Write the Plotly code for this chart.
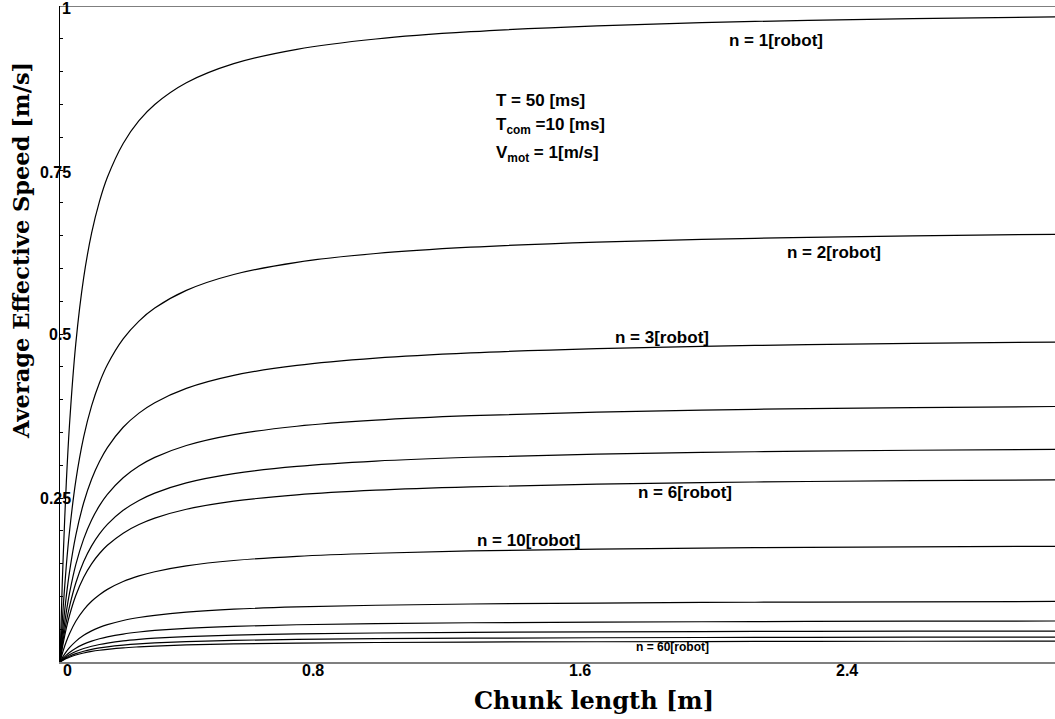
import plotly.graph_objects as go

# ---- data ----
chunk_length = [0, 0.005, 0.01, 0.02, 0.03, 0.05, 0.075, 0.1, 0.125, 0.15, 0.2, 0.25, 0.3,
                0.4, 0.55, 0.75, 1.0, 1.3, 1.7, 2.2, 2.7, 3.15]

speed_n1 = [0, 0.0862, 0.1587, 0.274, 0.3614, 0.4854, 0.5859, 0.6536, 0.7022, 0.7389,
            0.7905, 0.8251, 0.8499, 0.883, 0.9121, 0.934, 0.9497, 0.9608, 0.9698, 0.9765,
            0.9807, 0.9835]
speed_n2 = [0, 0.044, 0.0826, 0.147, 0.1986, 0.2762, 0.3432, 0.3905, 0.4258, 0.4531,
            0.4925, 0.5197, 0.5395, 0.5665, 0.5907, 0.6093, 0.6227, 0.6323, 0.6401, 0.6459,
            0.6497, 0.652]
speed_n3 = [0, 0.0296, 0.0559, 0.1005, 0.137, 0.1931, 0.2427, 0.2786, 0.3056, 0.3268,
            0.3578, 0.3794, 0.3953, 0.4171, 0.4369, 0.4521, 0.4632, 0.4712, 0.4777, 0.4826,
            0.4857, 0.4877]
speed_n4 = [0, 0.0223, 0.0422, 0.0763, 0.1045, 0.1484, 0.1877, 0.2165, 0.2383, 0.2555,
            0.2809, 0.2987, 0.3119, 0.33, 0.3466, 0.3594, 0.3687, 0.3755, 0.381, 0.3852,
            0.3878, 0.3895]
speed_n5 = [0, 0.0179, 0.0339, 0.0616, 0.0845, 0.1205, 0.1531, 0.177, 0.1953, 0.2098,
            0.2312, 0.2463, 0.2575, 0.2731, 0.2872, 0.2982, 0.3063, 0.3121, 0.3169, 0.3205,
            0.3228, 0.3242]
speed_n6 = [0, 0.0149, 0.0283, 0.0515, 0.0709, 0.1014, 0.1292, 0.1497, 0.1654, 0.1779,
            0.1964, 0.2095, 0.2193, 0.2328, 0.2452, 0.2548, 0.2619, 0.267, 0.2712, 0.2744,
            0.2764, 0.2777]
speed_n10 = [0, 0.009, 0.0171, 0.0312, 0.0431, 0.0621, 0.0796, 0.0926, 0.1026, 0.1107,
             0.1227, 0.1312, 0.1376, 0.1465, 0.1547, 0.1611, 0.1658, 0.1693, 0.172, 0.1742,
             0.1755, 0.1764]
speed_n20 = [0, 0.0045, 0.0086, 0.0157, 0.0218, 0.0315, 0.0406, 0.0474, 0.0527, 0.0569,
             0.0633, 0.0678, 0.0712, 0.076, 0.0805, 0.0839, 0.0865, 0.0884, 0.0899, 0.0911,
             0.0918, 0.0923]
speed_n30 = [0, 0.003, 0.0057, 0.0105, 0.0146, 0.0211, 0.0272, 0.0318, 0.0354, 0.0383,
             0.0426, 0.0457, 0.0481, 0.0514, 0.0544, 0.0568, 0.0585, 0.0598, 0.0608, 0.0616,
             0.0622, 0.0625]
speed_n40 = [0, 0.0023, 0.0043, 0.0079, 0.011, 0.0159, 0.0205, 0.024, 0.0267, 0.0289,
             0.0322, 0.0345, 0.0363, 0.0388, 0.0411, 0.0429, 0.0442, 0.0452, 0.046, 0.0466,
             0.047, 0.0472]
speed_n50 = [0, 0.0018, 0.0034, 0.0063, 0.0088, 0.0127, 0.0164, 0.0192, 0.0214, 0.0232,
             0.0258, 0.0277, 0.0291, 0.0311, 0.033, 0.0345, 0.0355, 0.0363, 0.037, 0.0375,
             0.0378, 0.038]
speed_n60 = [0, 0.0015, 0.0029, 0.0053, 0.0073, 0.0106, 0.0137, 0.0161, 0.0179, 0.0193,
             0.0216, 0.0231, 0.0243, 0.026, 0.0276, 0.0288, 0.0297, 0.0304, 0.0309, 0.0313,
             0.0316, 0.0317]

series = [speed_n1, speed_n2, speed_n3, speed_n4, speed_n5, speed_n6,
          speed_n10, speed_n20, speed_n30, speed_n40, speed_n50, speed_n60]
robot_counts = [1, 2, 3, 4, 5, 6, 10, 20, 30, 40, 50, 60]

x_tick_labels = ["0", "0.8", "1.6", "2.4"]
y_tick_labels = ["1", "0.75", "0.5", "0.25"]

# ---- layout geometry (pixels) ----
W, H = 1055, 719
L, R, T, B = 60, 0, 6, 57
PW, PH = W - L - R, H - T - B


def px(xp):
    return (xp - L) / PW


def py(yp):
    return (H - B - yp) / PH


fig = go.Figure()
for n, vals in zip(robot_counts, series):
    fig.add_trace(go.Scatter(x=chunk_length, y=vals, mode="lines",
                             line=dict(color="black", width=1.2, shape="spline", smoothing=1.0),
                             name=f"n = {n}", showlegend=False,
                             hoverinfo="skip"))

ann = []
SANS = "Liberation Sans, Arial, sans-serif"
lab_font = dict(family=SANS, size=16, color="black")
bold = lambda s: f"<b>{s}</b>"

# x tick labels
for t, xp in zip(x_tick_labels, [67, 313, 580, 847]):
    ann.append(dict(text=bold(t), x=px(xp), y=py(670), xref="paper", yref="paper",
                    xanchor="center", yanchor="middle", showarrow=False, font=lab_font))
# y tick labels
for t, yp in zip(y_tick_labels, [8, 172, 335, 499]):
    ann.append(dict(text=bold(t), x=px(73), y=py(yp), xref="paper", yref="paper",
                    xanchor="right", yanchor="middle", showarrow=False, font=lab_font))

# curve labels
curve_labels = [("n = 1[robot]", 776, 41, 17), ("n = 2[robot]", 834, 253, 17),
                ("n = 3[robot]", 662, 337, 17), ("n = 6[robot]", 685, 492, 17),
                ("n = 10[robot]", 528, 540, 17), ("n = 60[robot]", 672, 647, 12)]
for t, xp, yp, fs in curve_labels:
    ann.append(dict(text=bold(t), x=px(xp), y=py(yp), xref="paper", yref="paper",
                    xanchor="center", yanchor="middle", showarrow=False,
                    font=dict(family=SANS, size=fs, color="black")))

# parameter block
params = [("T = 50 [ms]", 100), ("T<sub>com</sub> =10 [ms]", 126), ("V<sub>mot</sub> = 1[m/s]", 154)]
for t, yp in params:
    ann.append(dict(text=bold(t), x=px(494), y=py(yp), xref="paper", yref="paper",
                    xanchor="left", yanchor="middle", showarrow=False,
                    font=dict(family=SANS, size=17, color="black")))

ann.append(dict(text=bold("Chunk length [m]"), x=px(594), y=py(700), xref="paper", yref="paper",
                xanchor="center", yanchor="middle", showarrow=False,
                font=dict(family="DejaVu Serif", size=24, color="black")))
ann.append(dict(text=bold("Average Effective Speed [m/s]"), x=px(21), y=py(251), xref="paper",
                yref="paper", xanchor="center", yanchor="middle", textangle=-90,
                showarrow=False, font=dict(family="DejaVu Serif", size=22.5, color="black")))

fig.update_layout(
    width=W, height=H,
    margin=dict(l=L, r=R, t=T, b=B, pad=0),
    paper_bgcolor="white", plot_bgcolor="white",
    annotations=ann,
    shapes=[dict(type="line", xref="paper", yref="y", x0=0, x1=1, y0=1, y1=1,
                 line=dict(color="#7f7f7f", width=2))],
    xaxis=dict(range=[0, 3.15], showgrid=False, zeroline=False, showticklabels=False,
               ticks="", showline=True, linecolor="#7f7f7f", linewidth=2),
    yaxis=dict(range=[0, 1], showgrid=False, zeroline=False, showticklabels=False,
               ticks="inside", tick0=0, dtick=0.05, ticklen=3, tickcolor="black",
               tickwidth=1, showline=True, linecolor="black", linewidth=1),
)

fig.write_html("out.html", config={"displayModeBar": False},
               post_script="document.body.style.margin='0';document.body.style.overflow='hidden';")
